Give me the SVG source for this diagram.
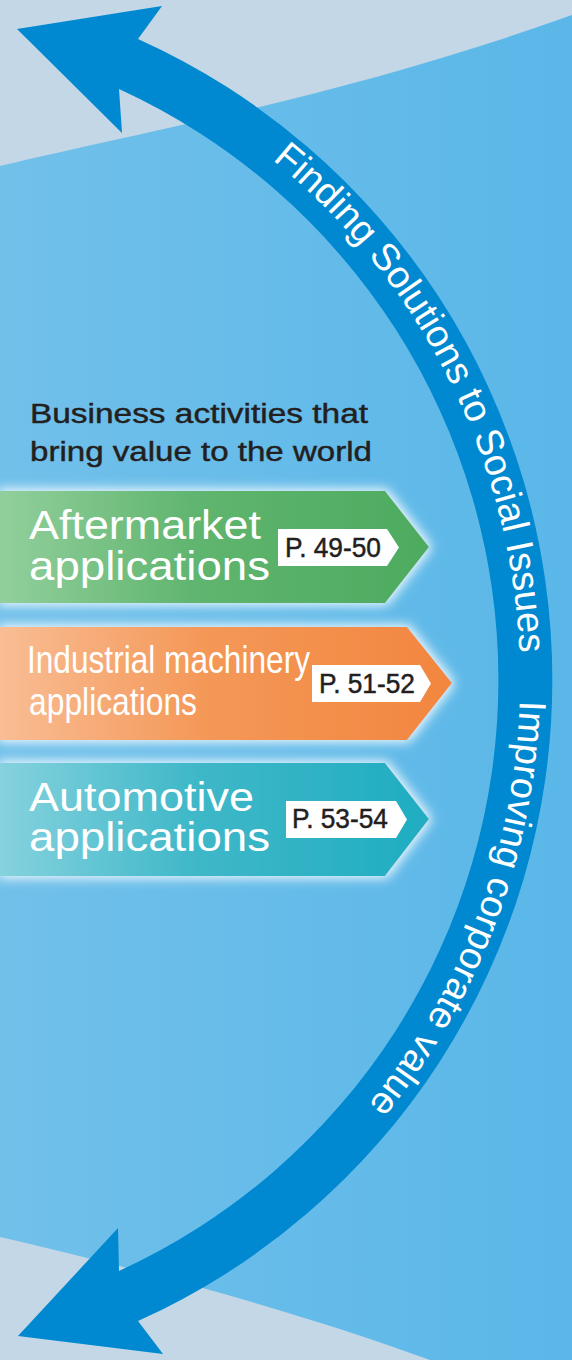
<svg xmlns="http://www.w3.org/2000/svg" xmlns:xlink="http://www.w3.org/1999/xlink" width="572" height="1360" viewBox="0 0 572 1360">
<defs>
<style>
.heading{font-family:"Liberation Sans",Arial,sans-serif;font-size:27px;fill:#231f20;stroke:#231f20;stroke-width:0.45px}
.boxtxt{font-family:"Liberation Sans",Arial,sans-serif;fill:#ffffff}
.lbl{fill:#ffffff}
.lbltxt{font-family:"Liberation Sans",Arial,sans-serif;font-size:28px;fill:#231f20;stroke:#231f20;stroke-width:0.5px}
.arctxt{font-family:"Liberation Sans",Arial,sans-serif;font-size:38px;fill:#ffffff}
</style>
<linearGradient id="bgBlue" x1="0" y1="0" x2="1" y2="0">
<stop offset="0" stop-color="#71c0ea"/>
<stop offset="1" stop-color="#5ab7e8"/>
</linearGradient>
<linearGradient id="gGreen" x1="0" y1="0" x2="1" y2="0">
<stop offset="0" stop-color="#92cf9c"/>
<stop offset="0.45" stop-color="#60b56f"/>
<stop offset="1" stop-color="#4dab5f"/>
</linearGradient>
<linearGradient id="gOrange" x1="0" y1="0" x2="1" y2="0">
<stop offset="0" stop-color="#f9bd94"/>
<stop offset="0.45" stop-color="#f49858"/>
<stop offset="1" stop-color="#f2863f"/>
</linearGradient>
<linearGradient id="gTeal" x1="0" y1="0" x2="1" y2="0">
<stop offset="0" stop-color="#86d2de"/>
<stop offset="0.45" stop-color="#3fb8c8"/>
<stop offset="1" stop-color="#20adc1"/>
</linearGradient>
<filter id="glow" x="-10%" y="-40%" width="120%" height="180%">
<feMorphology in="SourceAlpha" operator="dilate" radius="2" result="d"/>
<feGaussianBlur in="d" stdDeviation="6" result="b"/>
<feFlood flood-color="#ffffff" flood-opacity="0.95"/>
<feComposite operator="in" in2="b" result="g"/>
<feMerge><feMergeNode in="g"/><feMergeNode in="SourceGraphic"/></feMerge>
</filter>
<path id="arcPath" d="M185,99.8 A670 670 0 0 1 185,1260.2" fill="none"/>
</defs>

<g id="background">
<rect x="0" y="0" width="572" height="1360" fill="#c3d7e6"/>
<path d="M0,166 C150,130 350,95 572,15 L572,1360 L430,1360 C280,1305 120,1265 0,1237 Z" fill="url(#bgBlue)"/>
</g>

<g id="connectors">
<path id="cycle-arrow" d="M138,39 A703 703 0 0 1 138,1321 L163,1354 L18,1336 L118,1228 L119,1271 A650 650 0 0 0 119,89 L122,133 L17,29 L162,6 Z" fill="#0089d0"/>
<text class="arctxt"><textPath xlink:href="#arcPath" href="#arcPath" startOffset="106">Finding Solutions to Social Issues</textPath></text>
<text class="arctxt"><textPath xlink:href="#arcPath" href="#arcPath" startOffset="722">Improving corporate value</textPath></text>
</g>

<g id="heading">
<text class="heading" x="30" y="423" textLength="338" lengthAdjust="spacingAndGlyphs">Business activities that</text>
<text class="heading" x="30" y="461" textLength="342" lengthAdjust="spacingAndGlyphs">bring value to the world</text>
</g>

<g id="aftermarket">
<polygon points="0,491 385,491 429,547 385,603 0,603" fill="url(#gGreen)" filter="url(#glow)"/>
<text class="boxtxt" x="29" y="539" font-size="40.5" textLength="232" lengthAdjust="spacingAndGlyphs">Aftermarket</text>
<text class="boxtxt" x="29" y="580" font-size="40.5" textLength="241" lengthAdjust="spacingAndGlyphs">applications</text>
<polygon class="lbl" points="278,529 387,529 399,547.5 387,566 278,566"/>
<text class="lbltxt" x="285" y="557" textLength="96" lengthAdjust="spacingAndGlyphs">P. 49-50</text>
</g>

<g id="industrial">
<polygon points="0,627 407,627 452,683 407,740 0,740" fill="url(#gOrange)" filter="url(#glow)"/>
<text class="boxtxt" x="27" y="673" font-size="39.5" textLength="283" lengthAdjust="spacingAndGlyphs">Industrial machinery</text>
<text class="boxtxt" x="29" y="715" font-size="39.5" textLength="168" lengthAdjust="spacingAndGlyphs">applications</text>
<polygon class="lbl" points="312,665 420,665 431,683.5 420,702 312,702"/>
<text class="lbltxt" x="319" y="693" textLength="96" lengthAdjust="spacingAndGlyphs">P. 51-52</text>
</g>

<g id="automotive">
<polygon points="0,763 385,763 429,819 385,876 0,876" fill="url(#gTeal)" filter="url(#glow)"/>
<text class="boxtxt" x="29" y="811" font-size="40.5" textLength="225" lengthAdjust="spacingAndGlyphs">Automotive</text>
<text class="boxtxt" x="29" y="851" font-size="40.5" textLength="241" lengthAdjust="spacingAndGlyphs">applications</text>
<polygon class="lbl" points="286,801 396,801 407,819.5 396,838 286,838"/>
<text class="lbltxt" x="292" y="828" textLength="96" lengthAdjust="spacingAndGlyphs">P. 53-54</text>
</g>
</svg>
